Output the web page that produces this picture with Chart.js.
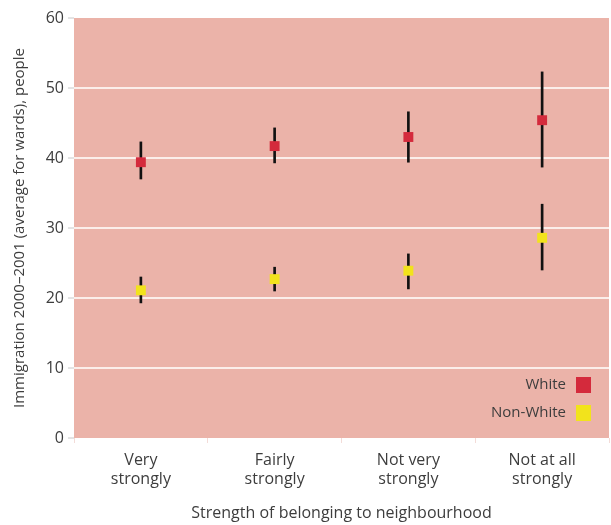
<!DOCTYPE html>
<html>
<head>
<meta charset="utf-8">
<script src="https://cdn.jsdelivr.net/npm/chart.js@4"></script>
<style>
  body { margin: 0; background: #fff; overflow: hidden; }
  canvas { display: block; }
</style>
</head>
<body>
<canvas id="chart" width="611" height="525"></canvas>
<script>
// categories (two-line labels)
const categories = [
    ['Very', 'strongly'],
    ['Fairly', 'strongly'],
    ['Not very', 'strongly'],
    ['Not at all', 'strongly']
];

// white respondents: mean and error range
const whiteMean = [39.4, 41.7, 43.0, 45.4];
const whiteLow = [37.0, 39.3, 39.4, 38.7];
const whiteHigh = [42.3, 44.3, 46.6, 52.3];

// non-white respondents
const nonWhiteMean = [21.1, 22.7, 23.9, 28.6];
const nonWhiteLow = [19.3, 21.0, 21.3, 24.0];
const nonWhiteHigh = [23.0, 24.4, 26.3, 33.4];

const yTicks = [0, 10, 20, 30, 40, 50, 60];

const FONT = "'Open Sans', 'Noto Sans', sans-serif";
const PINK = '#ebb3a9';
const RED = '#d42a3c';
const YELLOW = '#f2e31c';
const TEXT = '#3d3d3d';

// pink plot area
const plotBg = {
    id: 'plotBg',
    beforeDraw(chart) {
        const a = chart.chartArea;
        const c = chart.ctx;
        c.save();
        c.fillStyle = PINK;
        c.fillRect(a.left, a.top, a.right - a.left, a.bottom - a.top);
        c.restore();
    }
};

// legend inside the plot, bottom right
const cornerLegend = {
    id: 'cornerLegend',
    afterDraw(chart) {
        const c = chart.ctx;
        const a = chart.chartArea;
        const items = [['White', RED], ['Non-White', YELLOW]];
        c.save();
        c.font = '15px ' + FONT;
        c.textAlign = 'right';
        c.textBaseline = 'middle';
        items.forEach((it, i) => {
            const y = a.bottom - 53 + i * 28;
            c.fillStyle = TEXT;
            c.fillText(it[0], a.right - 43, y);
            c.fillStyle = it[1];
            c.fillRect(a.right - 33, y - 8, 15, 16);
        });
        c.restore();
    }
};

function ranges(lo, hi) {
    return lo.map((v, i) => [v, hi[i]]);
}

new Chart(document.getElementById('chart'), {
    type: 'bar',
    data: {
        labels: categories,
        datasets: [
            {
                type: 'line',
                label: 'White',
                data: whiteMean,
                showLine: false,
                pointStyle: 'rect',
                pointRadius: 7,
                pointBackgroundColor: RED,
                pointBorderWidth: 0,
                order: 0
            },
            {
                type: 'line',
                label: 'Non-White',
                data: nonWhiteMean,
                showLine: false,
                pointStyle: 'rect',
                pointRadius: 7,
                pointBackgroundColor: YELLOW,
                pointBorderWidth: 0,
                order: 0
            },
            {
                label: 'White range',
                data: ranges(whiteLow, whiteHigh),
                backgroundColor: '#111',
                barThickness: 2,
                grouped: false,
                order: 1
            },
            {
                label: 'Non-White range',
                data: ranges(nonWhiteLow, nonWhiteHigh),
                backgroundColor: '#111',
                barThickness: 2,
                grouped: false,
                order: 1
            }
        ]
    },
    options: {
        responsive: false,
        animation: false,
        layout: { autoPadding: false, padding: { top: 18, right: 2, left: 0, bottom: 0 } },
        plugins: {
            legend: { display: false },
            tooltip: { enabled: false }
        },
        scales: {
            x: {
                offset: true,
                border: { display: false },
                grid: {
                    offset: true,
                    drawOnChartArea: false,
                    color: '#f3dcd8',
                    tickLength: 5
                },
                ticks: {
                    color: TEXT,
                    font: { family: FONT, size: 16, lineHeight: 1.2 },
                    padding: 8
                },
                title: {
                    display: true,
                    text: 'Strength of belonging to neighbourhood',
                    color: TEXT,
                    font: { family: FONT, size: 16 },
                    padding: { top: 0, bottom: 2 }
                },
                afterFit(scale) {
                    scale.height = 87;
                    scale.paddingLeft = 0;
                    scale.paddingRight = 0;
                }
            },
            y: {
                min: 0,
                max: 60,
                afterBuildTicks(scale) {
                    scale.ticks = yTicks.map(v => ({ value: v }));
                },
                border: { display: false },
                grid: {
                    color: ctx => (ctx.tick && (ctx.tick.value === 0 || ctx.tick.value === 60)) ? 'rgba(0,0,0,0)' : '#fbeeea',
                    tickColor: '#c8c8c8',
                    lineWidth: 2,
                    tickWidth: 1,
                    tickLength: 6
                },
                ticks: {
                    color: TEXT,
                    font: { family: FONT, size: 16 },
                    padding: 4
                },
                title: {
                    display: true,
                    text: 'Immigration 2000–2001 (average for wards), people',
                    color: TEXT,
                    font: { family: FONT, size: 15 },
                    padding: { top: 11, bottom: 4 }
                },
                afterFit(scale) { scale.width = 74; }
            }
        }
    },
    plugins: [plotBg, cornerLegend]
});
</script>
</body>
</html>
